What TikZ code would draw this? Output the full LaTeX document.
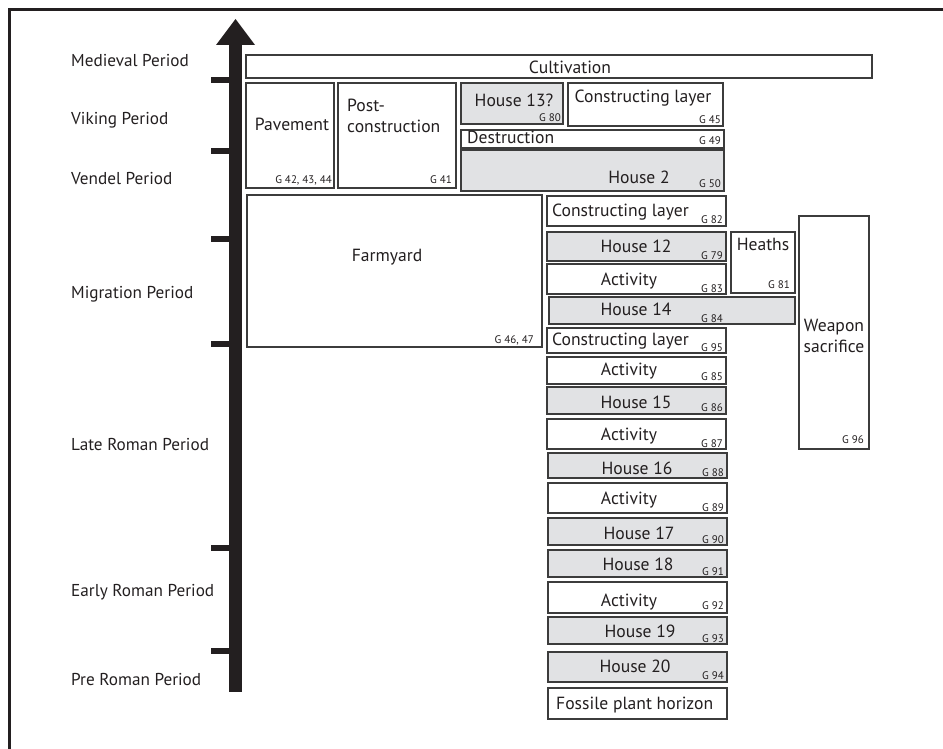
\documentclass[tikz,border=0pt]{standalone}
\usepackage{fontspec}
\setmainfont{PT Sans}
\usepackage{xcolor}
\usepackage{tikz}
\usetikzlibrary{positioning}
\definecolor{ink}{RGB}{35,31,32}
\definecolor{edge}{RGB}{60,60,60}
\definecolor{house}{RGB}{225,226,228}

\begin{document}
\begin{tikzpicture}[x=1pt, y=-1pt,
  lyr/.style={draw=edge, line width=1.5pt, fill=white},
  hus/.style={draw=edge, line width=1.5pt, fill=house},
  txt/.style={inner sep=0pt, anchor=base, font=\fontsize{17.6}{20}\selectfont, text=ink},
  ltxt/.style={txt, anchor=base west},
  gno/.style={inner sep=0pt, anchor=base east, font=\fontsize{11}{13}\selectfont, text=ink},
  per/.style={inner sep=0pt, anchor=base west, font=\fontsize{17.2}{20}\selectfont, text=ink},
  tick/.style={ink, line width=6pt}]
  \useasboundingbox (0,0) rectangle (943,749);
  % frame
  \draw[ink, line width=3pt] (9.5,749) -- (9.5,9.5) -- (943,9.5);
  % time axis
  \fill[ink] (229,692) rectangle (242,44);
  \fill[ink] (216,45) -- (235.5,19) -- (255,45) -- cycle;
  \foreach \y in {80,151,239,344,548,651}
    \draw[tick] (211,\y) -- (230,\y);
  % periods
  \node[per] (medieval)  at (71,67)  {Medieval Period};
  \node[per] (viking)    at (71,125) {Viking Period};
  \node[per] (vendel)    at (71,185) {Vendel Period};
  \node[per] (migration) at (71,298) {Migration Period};
  \node[per] (lateroman) at (71,450) {Late Roman Period};
  \node[per] (earlyroman) at (71,596) {Early Roman Period};
  \node[per] (preroman)  at (71,685) {Pre Roman Period};

  % upper layers
  \draw[lyr] (246,55) rectangle (872,78);
  \node[txt] (cultivation) at (570,74) {Cultivation};
  \draw[lyr] (246,83) rectangle (334,188);
  \node[txt] (pavement) at (292,131) {Pavement};
  \node[gno] (g42) at (332,183) {G 42, 43, 44};
  \draw[lyr] (338,83) rectangle (456,188);
  \node[ltxt] (post) at (347,112) {Post-};
  \node[ltxt] (postb) at (347,133) {construction};
  \node[gno] (g41) at (452,183) {G 41};
  \draw[hus] (461,83) rectangle (563,124);
  \node[txt] (house13) at (514,107) {House 13?};
  \node[gno] (g80) at (561,122) {G 80};
  \draw[lyr] (568,83) rectangle (723,126);
  \node[txt] (constr45) at (643,103) {Constructing layer};
  \node[gno] (g45) at (721,124) {G 45};
  \draw[lyr] (461,130) rectangle (724,148);
  \node[ltxt] (destruction) at (467,144) {Destruction};
  \node[gno] (g49) at (721,145) {G 49};
  \draw[hus] (461,150) rectangle (724,191);
  \node[txt] (house2) at (639,183) {House 2};
  \node[gno] (g50) at (721,188) {G 50};
  \draw[lyr] (247,195) rectangle (542,347);
  \node[txt] (farmyard) at (387,261) {Farmyard};
  \node[gno] (g46) at (534,343) {G 46, 47};

  % migration period column
  \draw[lyr] (547,196) rectangle (726,226);
  \node[ltxt] (constr82) at (552,216) {Constructing layer};
  \node[gno] (g82) at (723,223) {G 82};
  \draw[hus] (547,232) rectangle (726,261);
  \node[txt] (house12) at (636,252) {House 12};
  \node[gno] (g79) at (723,259) {G 79};
  \draw[lyr] (547,264) rectangle (726,294);
  \node[txt] (act83) at (629,285) {Activity};
  \node[gno] (g83) at (723,292) {G 83};
  \draw[lyr] (731,232) rectangle (795,293);
  \node[txt] (heaths) at (763,251) {Heaths};
  \node[gno] (g81) at (790,288) {G 81};
  \draw[hus] (549,297) rectangle (795,324);
  \node[txt] (house14) at (636,315) {House 14};
  \node[gno] (g84) at (723,322) {G 84};
  \draw[lyr] (799,216) rectangle (869,449);
  \node[txt] (weapon) at (834,331) {Weapon};
  \node[txt] (weaponb) at (834,352) {sacrifice};
  \node[gno] (g96) at (864,443) {G 96};

  % roman period column
  \draw[lyr] (547,328) rectangle (726,353);
  \node[ltxt] (constr95) at (552,345) {Constructing layer};
  \node[gno] (g95) at (723,351) {G 95};
  \draw[lyr] (547,357) rectangle (726,384);
  \node[txt] (act85) at (629,375) {Activity};
  \node[gno] (g85) at (723,380) {G 85};
  \draw[hus] (547,387) rectangle (726,414);
  \node[txt] (house15) at (636,408) {House 15};
  \node[gno] (g86) at (723,411) {G 86};
  \draw[lyr] (547,419) rectangle (726,449);
  \node[txt] (act87) at (629,440) {Activity};
  \node[gno] (g87) at (723,447) {G 87};
  \draw[hus] (548,453) rectangle (727,478);
  \node[txt] (house16) at (637,474) {House 16};
  \node[gno] (g88) at (724,476) {G 88};
  \draw[lyr] (548,483) rectangle (727,513);
  \node[txt] (act89) at (629,504) {Activity};
  \node[gno] (g89) at (724,511) {G 89};
  \draw[hus] (548,518) rectangle (727,545);
  \node[txt] (house17) at (639,539) {House 17};
  \node[gno] (g90) at (724,543) {G 90};
  \draw[hus] (548,550) rectangle (727,577);
  \node[txt] (house18) at (638,570) {House 18};
  \node[gno] (g91) at (724,575) {G 91};
  \draw[lyr] (548,582) rectangle (727,613);
  \node[txt] (act92) at (629,606) {Activity};
  \node[gno] (g92) at (724,609) {G 92};
  \draw[hus] (548,617) rectangle (727,644);
  \node[txt] (house19) at (640,637) {House 19};
  \node[gno] (g93) at (724,642) {G 93};
  \draw[hus] (548,652) rectangle (727,682);
  \node[txt] (house20) at (635,672) {House 20};
  \node[gno] (g94) at (724,679) {G 94};
  \draw[lyr] (548,688) rectangle (727,719);
  \node[ltxt] (fossile) at (556,709) {Fossile plant horizon};
\end{tikzpicture}
\end{document}
